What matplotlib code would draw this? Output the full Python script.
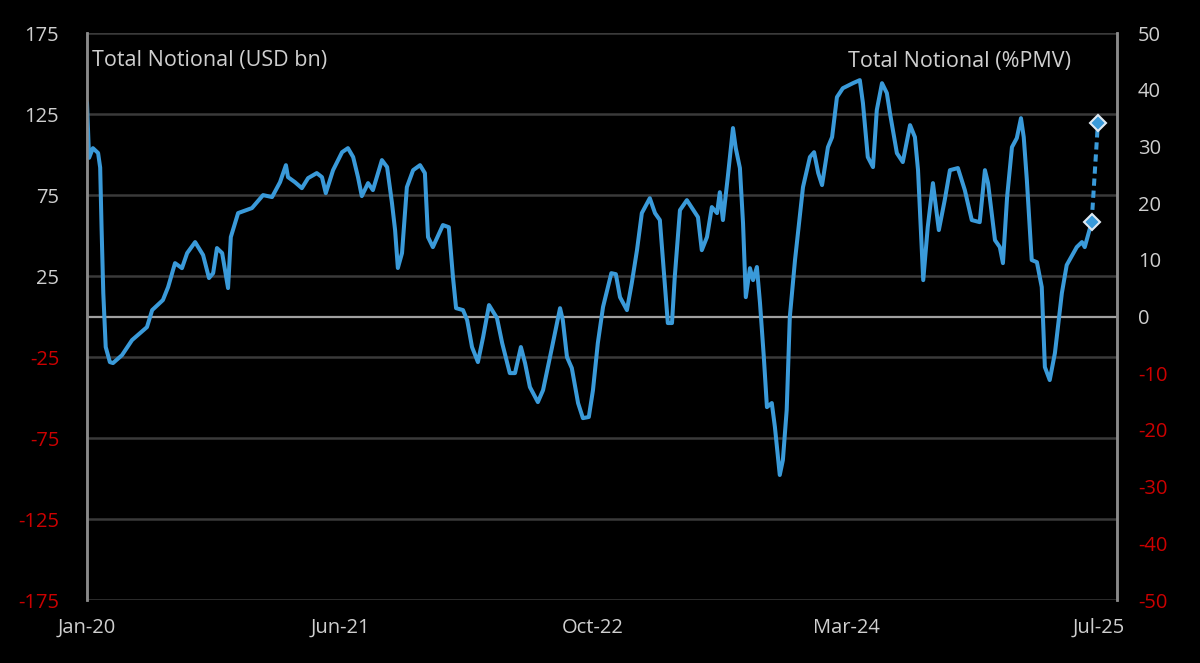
import matplotlib
matplotlib.use("Agg")
import matplotlib.pyplot as plt

# weekly series, x = weeks since first obs (Jan-20), values in USD bn
weeks = [0, 0.6, 1.7, 3.2, 3.8, 4.2, 4.7, 5.4, 6.6, 7.5, 10.1, 13.0, 15.3, 17.3, 18.8,
         21.9, 23.4, 25.4, 27.4, 28.9, 31.2, 33.5, 35.2, 36.4, 37.5, 39.0, 40.7, 41.5,
         43.6, 47.6, 50.8, 53.4, 55.7, 57.4, 58.0, 60.0, 62.0, 63.8, 66.3, 67.8, 68.9,
         71.0, 73.6, 75.3, 76.8, 78.2, 79.3, 81.1, 82.5, 85.1, 86.6, 88.0, 88.9, 89.7,
         90.9, 92.3, 94.1, 96.1, 97.5, 98.4, 99.8, 102.7, 104.4, 105.6, 106.5, 108.5,
         109.7, 111.1, 112.8, 114.3, 116.0, 118.3, 119.8, 122.0, 123.5, 125.2, 126.4,
         127.8, 130.1, 131.6, 134.2, 136.5, 137.3, 138.5, 139.9, 141.7, 143.1, 144.8,
         146.0, 147.4, 148.9, 151.3, 152.6, 153.8, 155.8, 157.2, 158.7, 160.1, 162.4,
         163.9, 165.3, 166.2, 167.6, 168.8, 169.6, 171.1, 173.1, 174.6, 176.3, 177.4,
         178.9, 180.3, 181.8, 182.6, 183.5, 184.9, 186.4, 187.2, 188.4, 189.3, 190.1,
         191.3, 192.2, 193.3, 194.2, 195.3, 196.2, 197.6, 198.5, 199.9, 200.8, 201.9,
         202.8, 204.3, 205.4, 206.6, 208.6, 209.8, 211.0, 212.1, 213.8, 215.0, 216.4,
         218.1, 221.0, 223.0, 223.9, 225.3, 226.8, 227.9, 229.4, 230.8, 231.7, 233.7,
         235.4, 237.5, 238.9, 239.8, 241.3, 242.6, 244.1, 245.8, 247.5, 249.0, 251.3,
         253.3, 255.3, 257.6, 259.1, 260.0, 262.0, 263.4, 264.3, 265.5, 266.9, 268.3,
         269.5, 270.3, 271.2, 272.6, 274.1, 275.5, 276.4, 277.8, 279.3, 281.3, 282.7,
         285.6, 287.1, 287.9, 289.9]
notional = [132, 98, 104, 101, 92, 55, 14.5, -18.8, -28.1, -28.7, -23.8, -14.5, -10.2,
            -6.5, 4, 10.2, 18.2, 33, 29.9, 39.2, 46, 38, 23.8, 26.8, 42.3, 39.2, 17.6,
            49.1, 63.9, 67, 75, 73.8, 83, 93.5, 86.1, 83, 79.3, 85.5, 88.6, 86.1, 76.2,
            90.4, 101.5, 104, 98.5, 86.1, 74.4, 82.4, 78.1, 96.6, 92.3, 70.1, 53.4, 30,
            39.2, 79.9, 90.4, 93.5, 88.6, 49.1, 42.9, 56.5, 55.2, 24.4, 5.2, 4, -2.2,
            -18.8, -28.1, -12.7, 7.1, -0.9, -16.4, -34.9, -34.9, -18.8, -28.7, -43.5,
            -52.8, -45.4, -18.8, 5.2, -2.2, -25, -31.8, -53.4, -62.7, -62.0, -45.4,
            -16.4, 5.9, 26.8, 26.2, 12, 4, 20.7, 41, 63.9, 73.1, 63.9, 59.6, 34.9, -4,
            -4, 24.4, 65.7, 71.9, 67, 61.4, 41, 49.1, 67.6, 63.9, 76.8, 59.6, 86.1,
            116.4, 104, 91.7, 57.7, 12, 29.9, 22.5, 30.6, 8.3, -25, -55.9, -53.4, -68.2,
            -97.8, -88.6, -57.7, -0.3, 34.9, 56.5, 79.9, 98.5, 101.5, 88.6, 81.2, 104.6,
            110.8, 135.5, 141, 144.1, 146, 131.8, 98.5, 92.3, 127.5, 144.1, 138, 125.6,
            100.9, 95.4, 118.2, 110.8, 90.4, 22.5, 55.2, 82.4, 53.4, 71.9, 90.4, 91.7,
            78.1, 59.6, 58.3, 90.4, 82.4, 47.2, 42.9, 33, 73.8, 104.6, 110.2, 122.5,
            110.8, 84.3, 34.9, 33.6, 18.2, -31.2, -39.2, -22.5, 14.5, 31.8, 42.9, 46,
            42.9, 58.3]

# latest reading and estimate, % of PMV (right axis)
latest_weeks = [289.9, 291.7]
latest_pmv = [16.7, 34.1]

tick_weeks = [0, 73, 146, 219, 292]
tick_labels = ["Jan-20", "Jun-21", "Oct-22", "Mar-24", "Jul-25"]
left_ticks = [-175, -125, -75, -25, 25, 75, 125, 175]
right_ticks = [-50, -40, -30, -20, -10, 0, 10, 20, 30, 40, 50]

plt.rcParams["font.family"] = ["Open Sans", "DejaVu Sans"]
plt.rcParams["axes.unicode_minus"] = False
BLUE = "#3a9ad9"
TXT = "#cfcfcf"
RED = "#cc0000"

fig = plt.figure(figsize=(12, 6.63), dpi=100, facecolor="black")
ax = fig.add_axes([0.0725, 0.095, 0.8583, 0.855])
ax.set_facecolor("black")
ax2 = ax.twinx()

for y in left_ticks:
    ax.axhline(y, color="#3a3a3a", lw=1.8, zorder=1)
ax.axhline(0, color="#a0a0a0", lw=1.6, zorder=1)

ax.plot(weeks, notional, color=BLUE, lw=2.9, zorder=3,
        solid_joinstyle="round", solid_capstyle="round")
ax2.plot(latest_weeks, latest_pmv, color=BLUE, lw=2.9, ls=(0, (1.8, 1.2)),
         marker="D", ms=8, mfc=BLUE, mec="#dfe9f2", mew=1.5, zorder=4)

ax.set_xlim(0, 297.2)
ax.set_ylim(-175, 175)
ax2.set_ylim(-50, 50)

ax.set_xticks(tick_weeks)
ax.set_xticklabels(tick_labels)
ax.set_yticks(left_ticks)
ax2.set_yticks(right_ticks)

ax.tick_params(axis="x", length=0, pad=13, labelsize=14.5, colors=TXT)
ax.tick_params(axis="y", length=0, pad=20, labelsize=14.5, colors=TXT)
ax2.tick_params(axis="y", length=0, pad=15, labelsize=14.5, colors=TXT)
for lbl, v in zip(ax.get_yticklabels(), left_ticks):
    lbl.set_color(RED if v < 0 else TXT)
for lbl, v in zip(ax2.get_yticklabels(), right_ticks):
    lbl.set_color(RED if v < 0 else TXT)

for a in (ax, ax2):
    for side in ("top", "bottom"):
        a.spines[side].set_visible(False)
    a.spines["left"].set_color("#8a8a8a")
    a.spines["right"].set_color("#8a8a8a")
    a.spines["left"].set_linewidth(1.8)
    a.spines["right"].set_linewidth(1.8)

ax.text(0.005, 0.951, "Total Notional (USD bn)", transform=ax.transAxes,
        color=TXT, fontsize=15.5, va="center", ha="left")
ax.text(0.9555, 0.950, "Total Notional (%PMV)", transform=ax.transAxes,
        color=TXT, fontsize=15.5, va="center", ha="right")

fig.savefig("out.png", dpi=100, facecolor="black")
